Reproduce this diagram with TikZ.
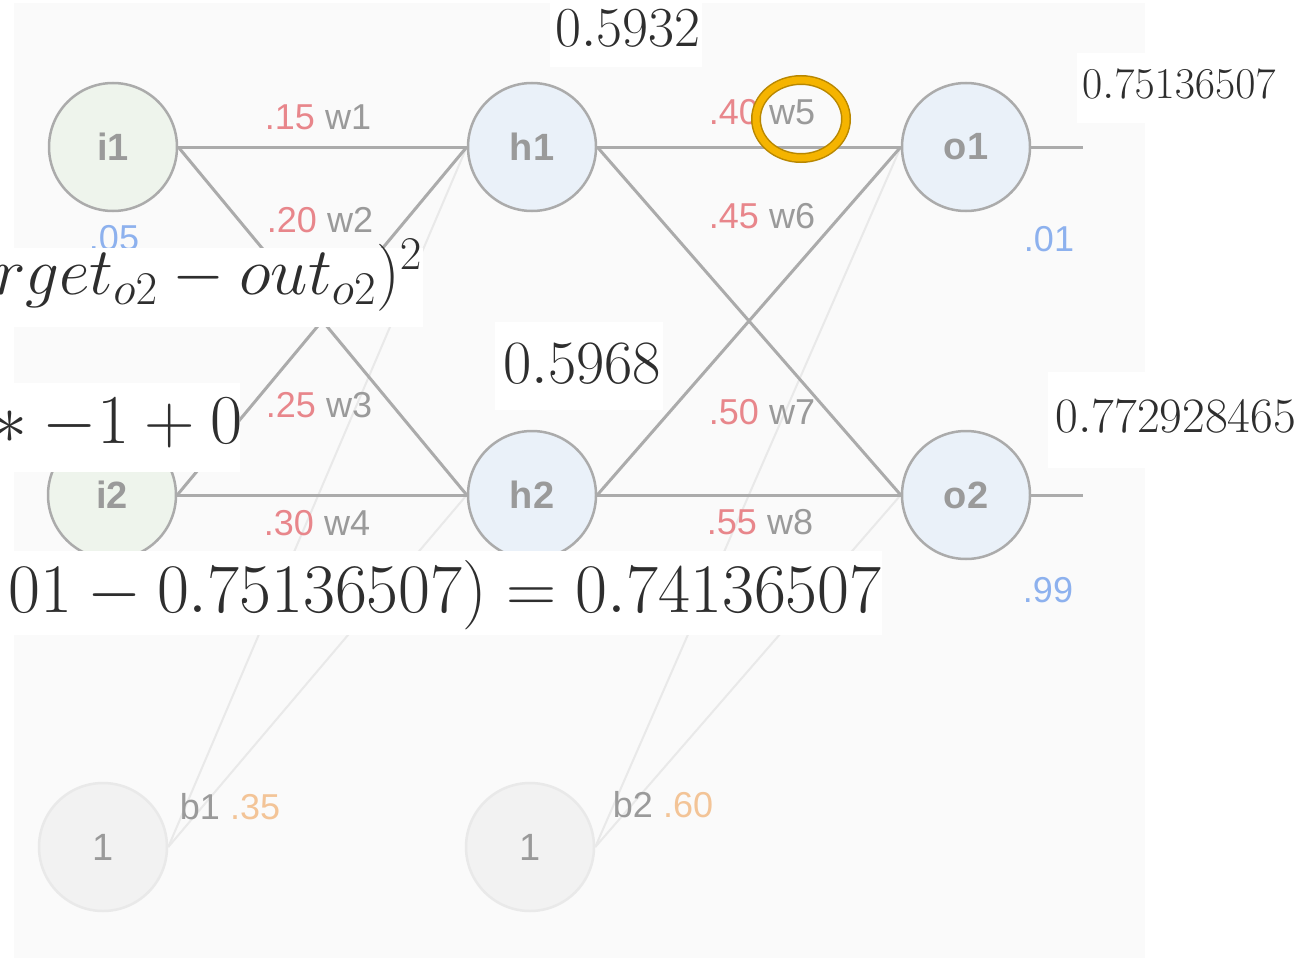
\RequirePackage{fix-cm}
\documentclass[tikz,border=0pt]{standalone}
\usepackage{fontspec}
\setsansfont{Liberation Sans}
\usetikzlibrary{positioning, calc, backgrounds}
\definecolor{cedge}{HTML}{ABABAB}
\definecolor{cfaint}{HTML}{E9E9E9}
\definecolor{clabel}{HTML}{9A9A9A}
\definecolor{cweight}{HTML}{E8868B}
\definecolor{ctarget}{HTML}{8DB1EE}
\definecolor{cbval}{HTML}{F3C497}
\definecolor{cin}{HTML}{EEF4EC}
\definecolor{cmid}{HTML}{EAF1F9}
\definecolor{cone}{HTML}{F2F2F2}
\definecolor{cpaper}{HTML}{FAFAFA}
\definecolor{cmark}{HTML}{F5B400}
\definecolor{cmarkdark}{HTML}{B88700}
\definecolor{cink}{HTML}{2E2E2E}
\tikzset{
  every picture/.style={font=\sffamily},
  neuron/.style={circle, draw=cedge, fill=#1, line width=2.5pt, minimum size=128pt, inner sep=0pt, text=clabel, font=\sffamily\bfseries\fontsize{38}{40}\selectfont},
  neuron/.default=cmid,
  onenode/.style={neuron=cone, draw=cfaint, font=\sffamily\fontsize{38}{40}\selectfont},
  edge/.style={draw=cedge, line width=3pt},
  biasedge/.style={draw=cfaint, line width=2pt},
  wlabel/.style={font=\sffamily\fontsize{36}{38}\selectfont, text=clabel, inner sep=0pt},
  target/.style={font=\sffamily\fontsize{36}{38}\selectfont, text=ctarget, inner sep=0pt},
  patch/.style={fill=white},
  calc/.style={text=cink, inner sep=0pt, font=\fontsize{#1}{#1}\selectfont},
}

\begin{document}
\begin{tikzpicture}[x=1pt, y=-1pt]
  \useasboundingbox (0,0) rectangle (1304,958);
  % ---------- network ----------
  \foreach \n/\x/\y/\c in {i1/113/147/cin, i2/112/495/cin, h1/532/147/cmid, h2/532/495/cmid, o1/966/147/cmid, o2/966/495/cmid} {
    \node[neuron=\c] (\n) at (\x,\y) {\n};
  }
  \node[onenode] (b1) at (103,847) {1};
  \node[onenode] (b2) at (530,847) {1};
  \coordinate (y1) at (1083,147);
  \coordinate (y2) at (1083,495);
  \begin{scope}[on background layer]
    \fill[white] (0,0) rectangle (1304,958);
    \fill[cpaper] (14,3) rectangle (1145,958);
    \foreach \h in {h1,h2} \draw[biasedge] (b1.east) -- (\h.west);
    \foreach \o in {o1,o2} \draw[biasedge] (b2.east) -- (\o.west);
    \foreach \a in {i1,i2} \foreach \b in {h1,h2} \draw[edge] (\a.east) -- (\b.west);
    \foreach \a in {h1,h2} \foreach \b in {o1,o2} \draw[edge] (\a.east) -- (\b.west);
    \draw[edge] (o1) -- (y1);
    \draw[edge] (o2) -- (y2);
  \end{scope}
  \foreach \v/\w/\x/\y in {.15/w1/318/117, .20/w2/320/220, .25/w3/319/405, .30/w4/317/523, .40/w5/762/112, .45/w6/762/216, .50/w7/762/412, .55/w8/760/522} {
    \node[wlabel] (l\w) at (\x,\y) {\textcolor{cweight}{\v} \w};
  }
  \node[target] (t1) at (114,238) {.05};
  \node[target] (t3) at (1049,239) {.01};
  \node[target] (t4) at (1048,590) {.99};
  \node[wlabel] (lb1) at (230,807) {b1 \textcolor{cbval}{.35}};
  \node[wlabel] (lb2) at (663,805) {b2 \textcolor{cbval}{.60}};
  % ---------- pasted results ----------
  \fill[patch] (550,0) rectangle (702,67);
  \fill[patch] (1077,53) rectangle (1304,123);
  \fill[patch] (0,248) rectangle (423,327);
  \fill[patch] (0,383) rectangle (240,472);
  \fill[patch] (0,551) rectangle (882,635);
  \fill[patch] (495,322) rectangle (663,410);
  \fill[patch] (1048,372) rectangle (1304,468);
  \node[calc=56.5, anchor=base] (outh1) at (628,47) {$0.5932$};
  \node[calc=61.5, anchor=base] (outh2) at (582,383) {$0.5968$};
  \node[calc=44, anchor=base] (outo1) at (1179,99) {$0.75136507$};
  \node[calc=49.5, anchor=base] (outo2) at (1176,432) {$0.772928465$};
  \node[calc=67, anchor=base east] (err) at (422,294) {$rget_{o2} - out_{o2})^2$};
  \node[calc=70, anchor=base east] (dout) at (243,443) {${}\ast -1 + 0$};
  \node[calc=69.5, anchor=base east] (diff) at (882,612) {$01 - 0.75136507) = 0.74136507$};
  % ---------- highlight ----------
  \draw[cmarkdark, line width=10pt] (801,119) ellipse [x radius=45, y radius=39];
  \draw[cmark, line width=7pt] (801,119) ellipse [x radius=45, y radius=39];
\end{tikzpicture}
\end{document}
